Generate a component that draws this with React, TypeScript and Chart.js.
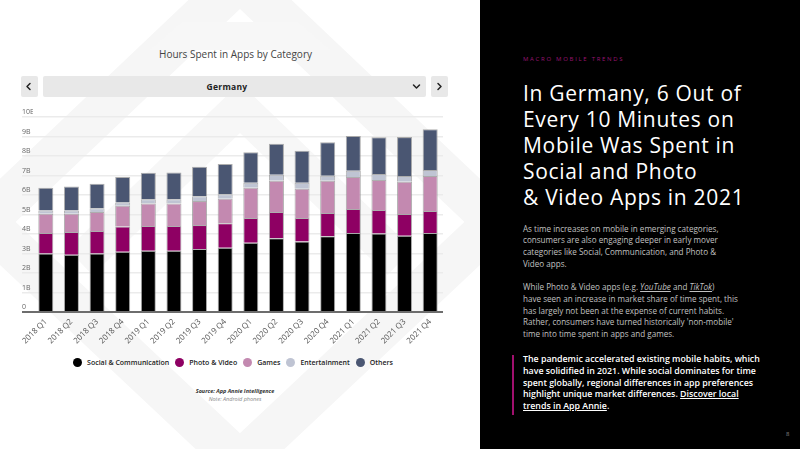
import React, { useEffect, useRef } from "react";
import { Chart, registerables } from "chart.js";

Chart.register(...registerables);

// Quarterly hours spent in apps, Germany (billions of hours)
const quarters = [
  "2018 Q1", "2018 Q2", "2018 Q3", "2018 Q4",
  "2019 Q1", "2019 Q2", "2019 Q3", "2019 Q4",
  "2020 Q1", "2020 Q2", "2020 Q3", "2020 Q4",
  "2021 Q1", "2021 Q2", "2021 Q3", "2021 Q4",
];
const socialCommunication = [3.0, 2.94, 3.0, 3.09, 3.14, 3.14, 3.23, 3.3, 3.55, 3.78, 3.61, 3.88, 4.05, 4.02, 3.91, 4.05];
const photoVideo = [1.05, 1.16, 1.15, 1.29, 1.27, 1.27, 1.23, 1.25, 1.27, 1.35, 1.21, 1.2, 1.23, 1.21, 1.12, 1.13];
const games = [0.99, 0.94, 0.98, 1.07, 1.15, 1.15, 1.23, 1.26, 1.55, 1.6, 1.5, 1.65, 1.64, 1.54, 1.65, 1.79];
const entertainment = [0.17, 0.17, 0.19, 0.17, 0.22, 0.22, 0.24, 0.23, 0.26, 0.31, 0.31, 0.26, 0.33, 0.31, 0.29, 0.31];
const others = [1.16, 1.22, 1.26, 1.3, 1.36, 1.38, 1.52, 1.55, 1.56, 1.59, 1.64, 1.71, 1.78, 1.88, 2.0, 2.09];

const seriesNames = ["Social & Communication", "Photo & Video", "Games", "Entertainment", "Others"];
const seriesValues = [socialCommunication, photoVideo, games, entertainment, others];
const seriesColors = ["#000000", "#8e0063", "#c389b0", "#bfc4d3", "#4a5672"];

const yMax = 10;
const yStep = 1;
const tickLabel = (v: number) => (v === 0 ? "0" : `${v}B`);

const FONT = "'Open Sans', 'DejaVu Sans', sans-serif";

function Chevron({ dir }: { dir: "left" | "right" | "down" }) {
  const pts =
    dir === "left" ? "5,1.5 2,4.5 5,7.5" : dir === "right" ? "3,1.5 6,4.5 3,7.5" : "1.5,3 4.5,6 7.5,3";
  return (
    <svg width="9" height="9" viewBox="0 0 9 9" style={{ display: "block" }}>
      <polyline points={pts} fill="none" stroke="#222" strokeWidth="1.5" strokeLinecap="round" strokeLinejoin="round" />
    </svg>
  );
}

function BarChart() {
  const ref = useRef<HTMLCanvasElement | null>(null);

  useEffect(() => {
    if (!ref.current) return;
    const chart = new Chart(ref.current, {
      type: "bar",
      data: {
        labels: quarters,
        datasets: seriesNames.map((name, i) => ({
          label: name,
          data: seriesValues[i],
          backgroundColor: seriesColors[i],
          borderColor: "rgba(140,140,140,0.7)",
          borderWidth: 1,
          borderSkipped: "start",
          barPercentage: 0.586,
          categoryPercentage: 1,
          stack: "total",
        })),
      },
      options: {
        responsive: false,
        animation: false,
        layout: { padding: { top: 17, left: 22, right: 27, bottom: 0 } },
        plugins: { legend: { display: false }, tooltip: { enabled: false } },
        scales: {
          x: {
            stacked: true,
            grid: { display: false, drawTicks: false },
            border: { display: false },
            ticks: {
              autoSkip: false,
              maxRotation: 45,
              minRotation: 45,
              padding: 5,
              color: "#555",
              font: { family: FONT, size: 8 },
            },
            afterFit: (s: any) => {
              s.height = 38;
            },
          },
          y: {
            stacked: true,
            min: 0,
            max: yMax,
            border: { display: false },
            grid: {
              color: (c: any) => (c.tick && c.tick.value === 0 ? "#6d6d6d" : "#ebebeb"),
              lineWidth: (c: any) => (c.tick && c.tick.value === 0 ? 2 : 1.5),
              drawTicks: true,
              tickLength: 11,
            },
            ticks: {
              stepSize: yStep,
              crossAlign: "far",
              labelOffset: -5,
              color: "#666",
              font: { family: FONT, size: 7 },
              callback: (v: any) => tickLabel(Number(v)),
            },
            afterFit: (s: any) => {
              s.width = 11;
            },
          },
        },
      },
    });
    return () => chart.destroy();
  }, []);

  return (
    <canvas
      ref={ref}
      width={470}
      height={250}
      style={{ position: "absolute", left: 0, top: 100, width: 470, height: 250 }}
    />
  );
}

function Legend() {
  return (
    <div
      style={{
        position: "absolute",
        left: 0,
        top: 358,
        width: 466,
        display: "flex",
        justifyContent: "center",
        alignItems: "center",
        fontFamily: FONT,
        fontSize: 7,
        fontWeight: 600,
        color: "#222",
        whiteSpace: "nowrap",
      }}
    >
      {seriesNames.map((name, i) => (
        <div key={name} style={{ display: "flex", alignItems: "center", marginRight: i < seriesNames.length - 1 ? 6 : 0 }}>
          <span
            style={{
              width: 9,
              height: 9,
              borderRadius: "50%",
              background: seriesColors[i],
              display: "inline-block",
              marginRight: 5,
            }}
          />
          <span>{name}</span>
        </div>
      ))}
    </div>
  );
}

function Watermark() {
  return (
    <svg width="480" height="449" style={{ position: "absolute", left: 0, top: 0 }}>
      <polygon points="240,-20 495,222 240,462 -15,222" fill="none" stroke="#f6f6f6" strokeWidth="42" />
      <polyline points="80,262 240,108 400,262" fill="none" stroke="#f7f7f7" strokeWidth="36" />
      <polygon points="182,22 298,22 330,50 150,50" fill="#f7f7f7" />
    </svg>
  );
}

export default function App() {
  const line = { whiteSpace: "nowrap" as const };
  return (
    <div
      style={{
        position: "fixed",
        left: 0,
        top: 0,
        width: 800,
        height: 449,
        overflow: "hidden",
        background: "#fff",
        fontFamily: FONT,
      }}
    >
      <Watermark />

      <div
        style={{
          position: "absolute",
          left: 0,
          top: 47,
          width: 471,
          textAlign: "center",
          fontSize: 10,
          color: "#444",
          whiteSpace: "nowrap",
        }}
      >
        Hours Spent in Apps by Category
      </div>

      {/* country selector */}
      <div
        style={{
          position: "absolute",
          left: 21,
          top: 76,
          width: 17,
          height: 21,
          background: "#e8e8e8",
          borderRadius: 2,
          display: "flex",
          alignItems: "center",
          justifyContent: "center",
        }}
      >
        <Chevron dir="left" />
      </div>
      <div
        style={{
          position: "absolute",
          left: 43,
          top: 76,
          width: 383,
          height: 21,
          background: "#e8e8e8",
          borderRadius: 2,
        }}
      >
        <div
          style={{
            position: "absolute",
            left: 0,
            top: 0,
            width: 368,
            lineHeight: "21px",
            textAlign: "center",
            fontSize: 8.5,
            fontWeight: 700,
            color: "#222",
            letterSpacing: 0.3,
          }}
        >
          Germany
        </div>
        <div style={{ position: "absolute", left: 369, top: 6 }}>
          <Chevron dir="down" />
        </div>
      </div>
      <div
        style={{
          position: "absolute",
          left: 431,
          top: 76,
          width: 17,
          height: 21,
          background: "#e8e8e8",
          borderRadius: 2,
          display: "flex",
          alignItems: "center",
          justifyContent: "center",
        }}
      >
        <Chevron dir="right" />
      </div>

      <BarChart />
      <Legend />

      <div
        style={{
          position: "absolute",
          left: 0,
          top: 388,
          width: 470,
          textAlign: "center",
          fontSize: 5.5,
          fontStyle: "italic",
          lineHeight: "7.5px",
          whiteSpace: "nowrap",
        }}
      >
        <div style={{ fontWeight: 700, color: "#333" }}>Source: App Annie Intelligence</div>
        <div style={{ color: "#888" }}>Note: Android phones</div>
      </div>

      {/* text panel */}
      <div style={{ position: "absolute", left: 480, top: 0, width: 320, height: 449, background: "#000" }}>
        <div
          style={{
            position: "absolute",
            left: 43,
            top: 55,
            fontSize: 6,
            letterSpacing: 1.7,
            color: "#9a1473",
            whiteSpace: "nowrap",
            lineHeight: "8px",
          }}
        >
          MACRO MOBILE TRENDS
        </div>
        <div
          style={{
            position: "absolute",
            left: 43,
            top: 79.5,
            fontSize: 21,
            lineHeight: "26px",
            color: "#fff",
            fontWeight: 500,
            letterSpacing: 0.7,
          }}
        >
          <div style={line}>In Germany, 6 Out of</div>
          <div style={line}>Every 10 Minutes on</div>
          <div style={line}>Mobile Was Spent in</div>
          <div style={line}>Social and Photo</div>
          <div style={line}>&amp; Video Apps in 2021</div>
        </div>
        <div
          style={{
            position: "absolute",
            left: 43,
            top: 222.5,
            fontSize: 8.1,
            lineHeight: "11.7px",
            color: "#c0c0c0",
          }}
        >
          <div style={line}>As time increases on mobile in emerging categories,</div>
          <div style={line}>consumers are also engaging deeper in early mover</div>
          <div style={line}>categories like Social, Communication, and Photo &amp;</div>
          <div style={line}>Video apps.</div>
          <div style={{ height: 12 }} />
          <div style={line}>
            While Photo &amp; Video apps (e.g. <i style={{ textDecoration: "underline" }}>YouTube</i> and{" "}
            <i style={{ textDecoration: "underline" }}>TikTok</i>)
          </div>
          <div style={line}>have seen an increase in market share of time spent, this</div>
          <div style={line}>has largely not been at the expense of current habits.</div>
          <div style={line}>Rather, consumers have turned historically 'non-mobile'</div>
          <div style={line}>time into time spent in apps and games.</div>
        </div>
        <div style={{ position: "absolute", left: 32, top: 355, width: 2, height: 60, background: "#a0106e" }} />
        <div
          style={{
            position: "absolute",
            left: 43,
            top: 354.2,
            fontSize: 8.8,
            lineHeight: "11.7px",
            color: "#fff",
            fontWeight: 600,
          }}
        >
          <div style={line}>The pandemic accelerated existing mobile habits, which</div>
          <div style={line}>have solidified in 2021. While social dominates for time</div>
          <div style={line}>spent globally, regional differences in app preferences</div>
          <div style={line}>
            highlight unique market differences. <span style={{ textDecoration: "underline" }}>Discover local</span>
          </div>
          <div style={line}>
            <span style={{ textDecoration: "underline" }}>trends in App Annie</span>.
          </div>
        </div>
        <div style={{ position: "absolute", left: 306, top: 430, fontSize: 6, color: "#888" }}>8</div>
      </div>
    </div>
  );
}
